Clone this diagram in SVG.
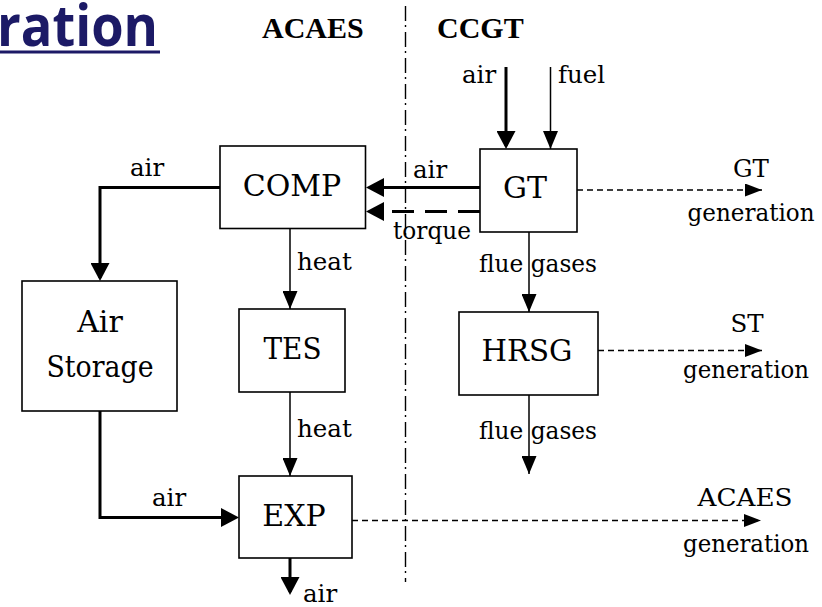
<svg xmlns="http://www.w3.org/2000/svg" width="822" height="607" viewBox="0 0 822 607">
  <defs>
    <style>
      .box { fill: #fff; stroke: #000; stroke-width: 1.6; }
      .name { font-family: 'DejaVu Serif', serif; font-size: 30px; fill: #000; text-anchor: middle; }
      .lbl { font-family: 'DejaVu Serif', serif; font-size: 24.5px; fill: #000; }
      .mid { text-anchor: middle; }
      .hdr { font-family: 'Liberation Serif', 'DejaVu Serif', serif; font-size: 30px; font-weight: bold; fill: #000; }
      .thick { fill: none; stroke: #000; stroke-width: 3; }
      .thin { fill: none; stroke: #000; stroke-width: 1.5; }
      .torque { stroke-dasharray: 22 11; }
      .power { fill: none; stroke: #000; stroke-width: 1.5; stroke-dasharray: 6 4; }
      .divider { fill: none; stroke: #000; stroke-width: 1.4; stroke-dasharray: 15 4 2 5; }
    </style>
    <!-- heavy arrowhead for air flows; tip sits 3px past the line end -->
    <marker id="ah-lg" markerUnits="userSpaceOnUse" viewBox="0 0 18 19" refX="15" refY="9.5" markerWidth="18" markerHeight="19" orient="auto">
      <path d="M0,0 L18,9.5 L0,19 z" fill="#000"/>
    </marker>
    <!-- medium arrowhead for heat / fuel / flue gas flows -->
    <marker id="ah-md" markerUnits="userSpaceOnUse" viewBox="0 0 18 15" refX="18" refY="7.5" markerWidth="18" markerHeight="15" orient="auto">
      <path d="M0,0 L18,7.5 L0,15 z" fill="#000"/>
    </marker>
    <!-- small arrowhead for the dashed generation outputs -->
    <marker id="ah-sm" markerUnits="userSpaceOnUse" viewBox="0 0 17 13" refX="17" refY="6.5" markerWidth="17" markerHeight="13" orient="auto">
      <path d="M0,0 L17,6.5 L0,13 z" fill="#000"/>
    </marker>
  </defs>

  <rect width="822" height="607" fill="#fff"/>

  <!-- slide heading fragment -->
  <g id="heading">
    <text x="-3" y="46" font-family="'Open Sans', 'Noto Sans', sans-serif" font-size="58" font-weight="bold" fill="#1c1a66" textLength="161" lengthAdjust="spacingAndGlyphs">ration</text>
    <rect x="0" y="50.5" width="160" height="3" fill="#1c1a66"/>
  </g>

  <!-- section headers and divider -->
  <g id="sections">
    <text class="hdr" x="262" y="38">ACAES</text>
    <text class="hdr" x="437" y="38">CCGT</text>
    <path class="divider" d="M405.5,6 V582"/>
  </g>

  <!-- connectors -->
  <g id="connectors">
    <path class="thick" d="M220,187.5 H100 V278" marker-end="url(#ah-lg)"/>
    <path class="thick" d="M480,187.5 H369" marker-end="url(#ah-lg)"/>
    <path class="thick torque" d="M480,211.5 H369" marker-end="url(#ah-lg)"/>
    <path class="thin" d="M290,229 V309" marker-end="url(#ah-md)"/>
    <path class="thin" d="M290,392 V476" marker-end="url(#ah-md)"/>
    <path class="thick" d="M100,411 V517.5 H236" marker-end="url(#ah-lg)"/>
    <path class="thick" d="M290,558 V592" marker-end="url(#ah-lg)"/>
    <path class="thick" d="M506,67 V146" marker-end="url(#ah-lg)"/>
    <path class="thin" d="M550.5,67 V149" marker-end="url(#ah-md)"/>
    <path class="thin" d="M529,232 V312" marker-end="url(#ah-md)"/>
    <path class="thin" d="M529,395 V474" marker-end="url(#ah-md)"/>
    <path class="power" d="M577,190 H762" marker-end="url(#ah-sm)"/>
    <path class="power" d="M598,350.5 H762" marker-end="url(#ah-sm)"/>
    <path class="power" d="M352,520.5 H761" marker-end="url(#ah-sm)"/>

    <text class="lbl" x="130" y="176">air</text>
    <text class="lbl" x="413" y="178">air</text>
    <text class="lbl" x="393" y="239" textLength="78" lengthAdjust="spacingAndGlyphs">torque</text>
    <text class="lbl" x="297" y="270">heat</text>
    <text class="lbl" x="297" y="437">heat</text>
    <text class="lbl" x="152" y="506">air</text>
    <text class="lbl" x="303" y="602">air</text>
    <text class="lbl" x="462" y="83">air</text>
    <text class="lbl" x="558" y="83">fuel</text>
    <text class="lbl" x="479" y="272" textLength="118" lengthAdjust="spacingAndGlyphs">flue gases</text>
    <text class="lbl" x="479" y="439" textLength="118" lengthAdjust="spacingAndGlyphs">flue gases</text>
    <text class="lbl mid" x="751" y="177">GT</text>
    <text class="lbl mid" x="751" y="221" textLength="127" lengthAdjust="spacingAndGlyphs">generation</text>
    <text class="lbl mid" x="747" y="332">ST</text>
    <text class="lbl mid" x="746" y="378" textLength="126" lengthAdjust="spacingAndGlyphs">generation</text>
    <text class="lbl mid" x="745" y="506" textLength="95" lengthAdjust="spacingAndGlyphs">ACAES</text>
    <text class="lbl mid" x="746" y="552" textLength="126" lengthAdjust="spacingAndGlyphs">generation</text>
  </g>

  <!-- nodes -->
  <g id="comp">
    <rect class="box" x="220" y="146" width="145.5" height="82.5"/>
    <text class="name" x="292" y="196">COMP</text>
  </g>
  <g id="air-storage">
    <rect class="box" x="22" y="281" width="155" height="130"/>
    <text class="name" x="100" y="332">Air</text>
    <text class="name" x="100" y="377" textLength="107" lengthAdjust="spacingAndGlyphs">Storage</text>
  </g>
  <g id="tes">
    <rect class="box" x="239" y="309" width="106" height="83"/>
    <text class="name" x="292.5" y="359" textLength="58" lengthAdjust="spacingAndGlyphs">TES</text>
  </g>
  <g id="exp">
    <rect class="box" x="239" y="476" width="113" height="82"/>
    <text class="name" x="294" y="526">EXP</text>
  </g>
  <g id="gt">
    <rect class="box" x="480" y="149" width="97" height="83"/>
    <text class="name" x="525" y="198">GT</text>
  </g>
  <g id="hrsg">
    <rect class="box" x="459" y="312" width="139" height="83"/>
    <text class="name" x="527" y="361" textLength="91" lengthAdjust="spacingAndGlyphs">HRSG</text>
  </g>
</svg>
